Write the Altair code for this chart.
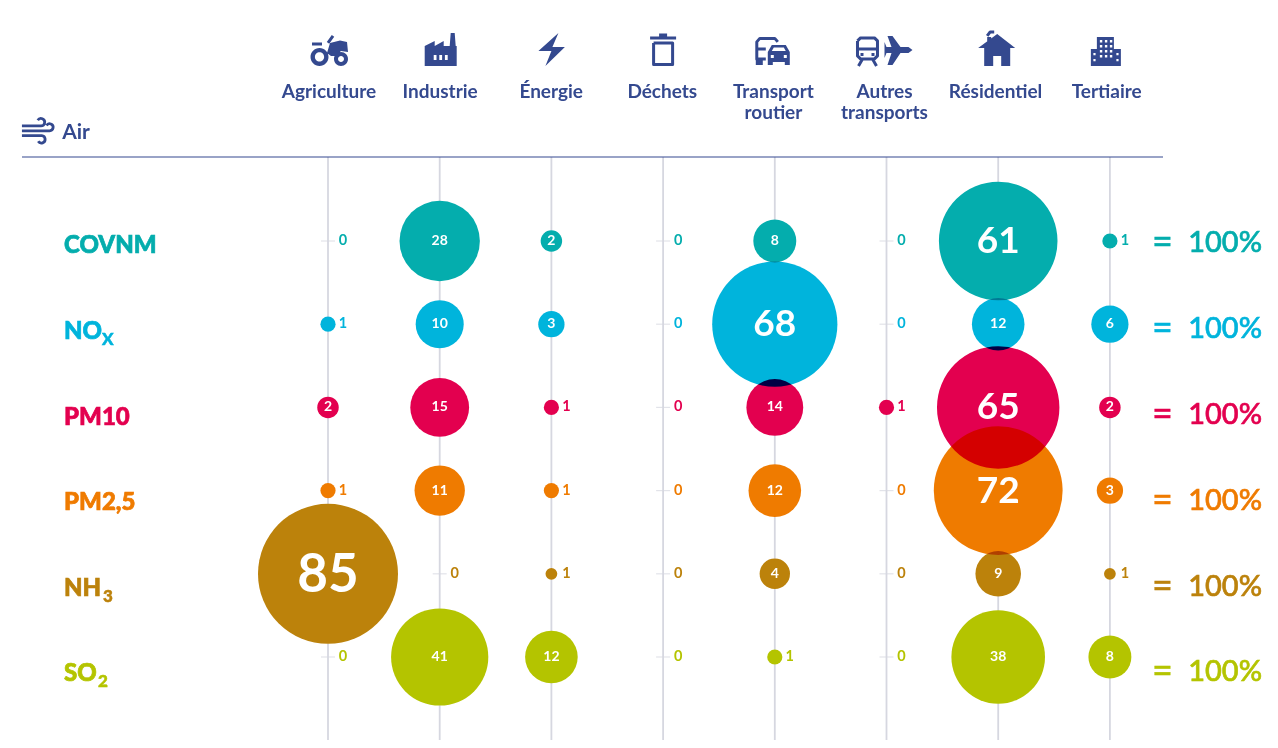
import altair as alt
import pandas as pd

# ---------- data ----------
sectors = ["Agriculture", "Industrie", "Énergie", "Déchets", "Transport\nroutier",
           "Autres\ntransports", "Résidentiel", "Tertiaire"]
pollutants = ["COVNM", "NO", "PM10", "PM2,5", "NH", "SO"]
subscripts = {"NO": "X", "NH": "3", "SO": "2"}
colors = ["#04ADAD", "#00B4DC", "#E3004F", "#EF7B00", "#BC820B", "#B4C400"]
covnm = [0, 28, 2, 0, 8, 0, 61, 1]
nox = [1, 10, 3, 0, 68, 0, 12, 6]
pm10 = [2, 15, 1, 0, 14, 1, 65, 2]
pm25 = [1, 11, 1, 0, 12, 0, 72, 3]
nh3 = [85, 0, 0.6, 0, 4, 0, 9, 0.6]
so2 = [0, 41, 12, 0, 1, 0, 38, 8]
series = [covnm, nox, pm10, pm25, nh3, so2]

NAVY = "#34498F"
GRID = "#D6D7E0"
FONT = "Lato"

df = pd.DataFrame([
    {"col": j, "row": i, "pollutant": p, "value": v}
    for i, (p, vals) in enumerate(zip(pollutants, series))
    for j, v in enumerate(vals)
])
df_lab = pd.DataFrame({"row": range(6), "pollutant": pollutants})
df_sec = pd.DataFrame({"col": range(8), "sector": sectors})

# ---------- scales ----------
x_s = alt.Scale(domain=[-2.8648, 8.4333], nice=False, zero=False)
y_s = alt.Scale(domain=[5.9976, -2.8005], nice=False, zero=False)
c_s = alt.Scale(domain=pollutants, range=colors)
size_s = alt.Scale(domain=[0, 85], range=[0, 140 ** 2], zero=True)
X = lambda f="col": alt.X(f"{f}:Q", scale=x_s, axis=None)
Y = lambda f="row": alt.Y(f"{f}:Q", scale=y_s, axis=None)
COLOR = alt.Color("pollutant:N", scale=c_s, legend=None)
SIZE = alt.Size("value:Q", scale=size_s, legend=None)
TEXT = alt.Text("value:Q", format=".0f")

base = alt.Chart(df)

rules = alt.Chart(df_sec).mark_rule(color=GRID, strokeWidth=1.8).encode(
    x=X(), y=alt.value(149), y2=alt.value(732))
top_rule = alt.Chart(df_lab.head(1)).mark_rule(color=NAVY, strokeWidth=1.1).encode(
    x=alt.value(14), x2=alt.value(1155), y=alt.value(149))

zero_ticks = base.transform_filter("datum.value == 0").mark_tick(
    orient="horizontal", size=14, thickness=1.2, color=GRID).encode(x=X(), y=Y())

backing = base.transform_filter("datum.value > 0").mark_circle(opacity=1, color="white").encode(
    x=X(), y=Y(), size=SIZE)
bubbles = base.transform_filter("datum.value > 0").mark_circle(opacity=1, blend="multiply").encode(
    x=X(), y=Y(), size=SIZE, color=COLOR)

outside = base.transform_filter("datum.value <= 1").mark_text(
    font=FONT, fontWeight="bold", fontSize=14.5, dx=15, dy=0).encode(
    x=X(), y=Y(), text=TEXT, color=COLOR)
inside_small = base.transform_filter("datum.value > 1 && datum.value < 50").mark_text(
    font=FONT, fontWeight="bold", fontSize=14, color="white").encode(
    x=X(), y=Y(), text=TEXT)
inside_big = base.transform_filter("datum.value > 50 && datum.value < 80").mark_text(
    font=FONT, fontWeight="bold", fontSize=37, color="white", dy=1).encode(
    x=X(), y=Y(), text=TEXT)
inside_huge = base.transform_filter("datum.value >= 80").mark_text(
    font=FONT, fontWeight="bold", fontSize=53, color="white", dy=2).encode(
    x=X(), y=Y(), text=TEXT)

# row labels drift slightly below the bubble rows
labels = alt.Chart(df_lab).transform_calculate(
    ly="0.066 + datum.row * 1.0288", lx="-2.3635").mark_text(
    font=FONT, fontWeight=900, fontSize=24, align="left", strokeWidth=0.7).encode(
    x=X("lx"), y=Y("ly"), text="pollutant:N", color=COLOR, stroke=COLOR)

sub_layers = []
sub_dx = {"NO": 38, "NH": 39, "SO": 34}
for p, s in subscripts.items():
    sub_layers.append(
        alt.Chart(df_lab[df_lab.pollutant == p]).transform_calculate(
            ly="0.066 + datum.row * 1.0288", lx="-2.3635", sub=f"'{s}'").mark_text(
            font=FONT, fontWeight=900, fontSize=17, align="left", dx=sub_dx[p], dy=8, strokeWidth=0.5).encode(
            x=X("lx"), y=Y("ly"), text="sub:N", color=COLOR, stroke=COLOR))

totals = alt.Chart(df_lab).transform_calculate(
    ly="0.03 + datum.row * 1.0312", lx="8.362", t="'100%'").mark_text(
    font=FONT, fontWeight=500, fontSize=29, align="right", strokeWidth=0.6).encode(
    x=X("lx"), y=Y("ly"), text="t:N", color=COLOR, stroke=COLOR)
equals = alt.Chart(df_lab).transform_calculate(
    ly="0.03 + datum.row * 1.0312", lx="7.377", t="'='").mark_text(
    font=FONT, fontWeight=500, fontSize=36, align="left", strokeWidth=0.3).encode(
    x=X("lx"), y=Y("ly"), text="t:N", color=COLOR, stroke=COLOR)

headers = alt.Chart(df_sec).transform_calculate(
    hx="0.009 + datum.col * 0.9946", hy="-1.79").mark_text(
    font=FONT, fontWeight="bold", fontSize=19, color=NAVY, lineBreak="\n",
    lineHeight=21).encode(x=X("hx"), y=Y("hy"), text="sector:N")

air = alt.Chart(df_lab.head(1)).transform_calculate(
    ax="-2.38", ay="-1.30", t="'Air'").mark_text(
    font=FONT, fontWeight="bold", fontSize=21, color=NAVY, align="left").encode(
    x=X("ax"), y=Y("ay"), text="t:N")

# ---------- icons (drawn in a 44 px box, unit = 22 px) ----------
U = 22.0
def n(v):
    return f"{v / U:.3f}"
def poly(points, hole=False):
    area = sum(points[i][0] * points[(i + 1) % len(points)][1] -
               points[(i + 1) % len(points)][0] * points[i][1] for i in range(len(points)))
    if (area < 0) != hole:
        points = list(reversed(points))
    return "M" + " L".join(f"{n(a)},{n(b)}" for a, b in points) + " Z "
def rect(x0, y0, x1, y1, hole=False):
    return poly([(x0, y0), (x1, y0), (x1, y1), (x0, y1)], hole)
def circ(cx, cy, r, hole=False):
    sw = 0 if hole else 1
    return (f"M{n(cx - r)},{n(cy)} A{n(r)},{n(r)} 0 1 {sw} {n(cx + r)},{n(cy)} "
            f"A{n(r)},{n(r)} 0 1 {sw} {n(cx - r)},{n(cy)} Z ")
def line(*pts):
    return "M" + " L".join(f"{n(a)},{n(b)}" for a, b in pts) + " "

tractor_fill = (poly([(-3, 3), (0, -7), (10, -9.5), (17, -8), (18, 2), (11, 1), (5, 6), (1, 6)])
                + circ(-10.5, 7, 9) + circ(-10.5, 7, 4.6, True)
                + circ(11, 9, 7) + circ(11, 9, 3, True))
tractor_line = line((-18, -6), (-8, -6)) + line((3, -14), (-2, -7))
factory_fill = (poly([(-16, 16), (-16, -4), (-6, -9), (-6, -4), (3, -9), (3, -4), (9, -4), (10, -17),
                      (14, -17), (15, -4), (16, -4), (16, 16)])
                + rect(-7, 5, -4.2, 10, True) + rect(-1.4, 5, 1.4, 10, True) + rect(4.2, 5, 7, 10, True))
bolt_fill = poly([(6, -17), (-14, 1), (-1, 1), (-7, 16), (12.5, -3), (0, -3)])
bin_fill = rect(-13, -13.5, 13, -10.5) + rect(-4, -16.5, 4, -13.5)
bin_line = line((-9.5, -7), (-9.5, 14.5), (9.5, 14.5), (9.5, -7), (-9.5, -7))
bus_fill = (rect(-18, 9, -11, 15)
            + poly([(-6, 15), (-6, 2), (-2, -5), (12, -5), (16, 2), (16, 15), (11, 15), (11, 12),
                    (-1, 12), (-1, 15)])
            + poly([(-2, 1), (0, -2.5), (10, -2.5), (12, 1)], True)
            + rect(-3, 5, 0, 8, True) + rect(10, 5, 13, 8, True))
bus_line = (line((-8, 9), (-17, 9), (-17, -8), (-14, -11.5), (1, -11.5), (4, -8))
            + line((-17, -1), (-8, -1)))
train_fill = (rect(-25, 3, -22, 6) + rect(-14, 3, -11, 6)
              + poly([(27, 0), (23, -3), (15, -3), (7, -14), (2, -14), (6, -3), (1, -3), (-1, -8),
                      (-1, 8), (1, 3), (6, 3), (2, 15), (7, 15), (15, 3), (23, 3)]))
train_line = (line((-28, -9), (-25, -12), (-11, -12), (-8, -9), (-8, 6), (-11, 9), (-25, 9), (-28, 6),
                   (-28, -9))
              + line((-28, -1), (-8, -1))
              + line((-23, 9), (-27, 16)) + line((-13, 9), (-9, 16)))
house_fill = (poly([(-19, -2), (0, -16), (18, -2), (13, -2), (13, 16), (4, 16), (4, 6), (-4, 6),
                    (-4, 16), (-13, 16), (-13, -2)])
              + rect(-10, -13, -6, -6))
house_line = line((-10, -14), (-7, -18), (-3, -18))
build_fill = poly([(-15, 16), (-15, -1), (-9, -1), (-9, -13), (8, -13), (8, -1), (15, -1), (15, 16)])
for wx in (-6, -1, 4):
    for wy in (-10, -5, 0, 5):
        build_fill += rect(wx, wy, wx + 2.4, wy + 2.6, True)
for wx in (-12.5, 10.5):
    for wy in (3, 9):
        build_fill += rect(wx, wy, wx + 2.2, wy + 2.4, True)
wind_line = ("M-0.64,-0.2 L0.22,-0.2 A0.17,0.17 0 1 0 0.08,-0.46 "
             "M-0.64,0.02 L0.62,0.02 A0.16,0.16 0 1 0 0.48,-0.22 "
             "M-0.64,0.24 L0.26,0.24 A0.17,0.17 0 1 1 0.1,0.5")

icon_fill = [tractor_fill, factory_fill, bolt_fill, bin_fill, bus_fill, train_fill, house_fill, build_fill]
icon_line = [tractor_line, None, None, bin_line, bus_line, train_line, house_line, None]
icon_x = [0.018, 0.009, 0.009, 0.0, -0.009, -0.009, -0.009, -0.036]

icons = []
for j, (f, l, ox) in enumerate(zip(icon_fill, icon_line, icon_x)):
    one = alt.Chart(df_sec[df_sec.col == j]).transform_calculate(
        ix=f"datum.col + {ox}", iy="-2.297")
    icons.append(one.mark_point(shape=f, filled=True, size=44 ** 2, color=NAVY, opacity=1).encode(
        x=X("ix"), y=Y("iy")))
    if l:
        icons.append(one.mark_point(shape=l, filled=False, size=44 ** 2, stroke=NAVY, strokeWidth=3,
                                    opacity=1, strokeJoin="round", fill=None).encode(
            x=X("ix"), y=Y("iy")))
wind = alt.Chart(df_lab.head(1)).transform_calculate(ix="-2.614", iy="-1.33").mark_point(
    shape=wind_line, filled=False, size=44 ** 2, stroke=NAVY, strokeWidth=2.8, opacity=1).encode(
    x=X("ix"), y=Y("iy"))

chart = alt.layer(
    rules, top_rule, zero_ticks, backing, bubbles, outside, inside_small, inside_big, inside_huge,
    labels, *sub_layers, totals, equals, headers, air, *icons, wind
).properties(
    width=1262, height=732,
    padding=0,
    background="white",
    autosize=alt.AutoSizeParams(type="none"),
).configure_view(stroke=None)

chart.save("out.html", embed_options={"renderer": "svg", "actions": False})
